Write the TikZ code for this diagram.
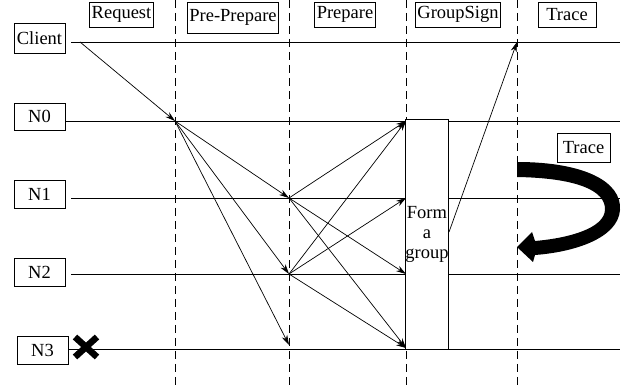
\documentclass[tikz,border=0pt]{standalone}
\usepackage{fontspec}
\setmainfont{Liberation Serif}
\usetikzlibrary{positioning,arrows.meta,calc}

\begin{document}
\begin{tikzpicture}[
  x=1pt, y=-1pt,
  font=\fontsize{18.5}{20}\selectfont,
  lbox/.style={draw, line width=0.9pt, inner sep=2pt, minimum height=25pt},
  nbox/.style={draw, line width=0.9pt, inner sep=2pt, minimum width=51pt, minimum height=28pt},
  phase/.style={draw, line width=0.8pt, dash pattern=on 8pt off 5pt},
  life/.style={line width=0.8pt},
  msg/.style={-{Stealth[length=10pt, width=6pt]}, line width=0.7pt}
]
\useasboundingbox (0,0) rectangle (632,387);
% phase borders
\foreach \x in {175,289,406,517}{\draw[phase] (\x,0) -- (\x,387);}
% phase labels
\node[lbox] (request) at (121.5,14.5) {Request};
\node[lbox, minimum height=31pt] (preprep) at (233,17.5) {Pre-Prepare};
\node[lbox] (prepare) at (345,14.5) {Prepare};
\node[lbox] (gsign) at (458,14.5) {GroupSign};
\node[lbox, minimum width=58pt] (trace) at (567,14.5) {Trace};
% participants
\node[nbox, minimum height=30pt] (client) at (39.5,38) {Client};
\node[nbox, minimum height=27pt] (n0) at (39.5,116.5) {N0};
\node[nbox] (n1) at (39.5,194.5) {N1};
\node[nbox] (n2) at (39.5,272.5) {N2};
\node[nbox] (n3) at (42.5,350.5) {N3};
% lifelines
\foreach \n/\x/\y in {cl/71/42, l0/66/121, l1/71/198, l2/71/274, l3/68/349}{
  \coordinate (\n s) at (\x,\y);
  \coordinate (\n e) at (620,\y);
  \draw[life] (\n s) -- (\n e);
}
% N3 is faulty
\draw[line width=6.5pt] (75,337) -- (97,357) (75,357) -- (97,337);
% message points
\coordinate (cs) at (80,42);
\coordinate (req) at (175,121);
\coordinate (pp1) at (289,198);
\coordinate (pp2) at (289,274);
\coordinate (pp3) at (289,345);
\coordinate (pr0) at (406,121);
\coordinate (pr1) at (406,198);
\coordinate (pr2) at (406,274);
\coordinate (pr3) at (406,348);
\coordinate (back) at (517,42);
% request, pre-prepare, prepare
\draw[msg] (cs) -- (req);
\foreach \b in {pp1,pp2,pp3}{\draw[msg] (req) -- (\b);}
\foreach \b in {pr0,pr2,pr3}{\draw[msg] (pp1) -- (\b);}
\foreach \b in {pr0,pr1,pr3}{\draw[msg] (pp2) -- (\b);}
% group signing
\node[draw, fill=white, line width=0.9pt, minimum width=42pt, minimum height=230pt, inner sep=0pt, align=center] (grp) at (427,234) {Form\\a\\group};
\draw[msg] ([yshift=2pt]grp.east) -- (back);
% trace
\node[nbox, minimum width=53pt, minimum height=29pt] (tlabel) at (583.5,147.5) {Trace};
\fill (517,162) .. controls (585,162) and (622,182) .. (620,210)
  .. controls (618,238) and (575,252) .. (535,255) -- (533,262) -- (517,247)
  -- (532,232) -- (535,241) .. controls (570,238) and (604,228) .. (605,210)
  .. controls (606,190) and (575,178) .. (517,177) -- cycle;
\end{tikzpicture}
\end{document}
